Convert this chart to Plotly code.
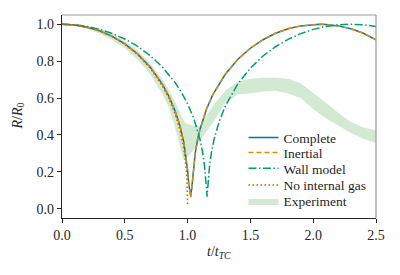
import plotly.graph_objects as go

# ---- data ----
t_complete = [0, 0.1, 0.2, 0.3, 0.4, 0.5, 0.6, 0.7, 0.8, 0.85, 0.9, 0.94, 0.97, 0.99, 1.0, 1.01, 1.025,
              1.04, 1.05, 1.06, 1.08, 1.1, 1.15, 1.2, 1.3, 1.4, 1.5, 1.6, 1.7, 1.8, 1.9, 2.0, 2.05,
              2.1, 2.2, 2.3, 2.4, 2.5]
r_complete = [1.0, 0.996, 0.984, 0.964, 0.934, 0.894, 0.84, 0.77, 0.674, 0.611, 0.531, 0.447, 0.36, 0.274,
              0.208, 0.13, 0.067, 0.157, 0.244, 0.298, 0.376, 0.434, 0.539, 0.617, 0.729, 0.81, 0.87,
              0.916, 0.951, 0.975, 0.991, 0.999, 1.0, 0.999, 0.991, 0.975, 0.951, 0.916]

t_inertial = t_complete
r_inertial = [1.0, 0.996, 0.984, 0.964, 0.934, 0.894, 0.84, 0.77, 0.674, 0.611, 0.531, 0.447, 0.36, 0.274,
              0.208, 0.128, 0.062, 0.155, 0.244, 0.298, 0.376, 0.434, 0.539, 0.617, 0.729, 0.81, 0.87,
              0.916, 0.951, 0.975, 0.991, 0.999, 1.0, 0.999, 0.991, 0.975, 0.951, 0.916]

t_wall = [0, 0.1, 0.2, 0.3, 0.4, 0.5, 0.6, 0.7, 0.8, 0.9, 0.95, 1.0, 1.05, 1.08, 1.1, 1.12, 1.135, 1.145,
          1.155, 1.165, 1.175, 1.19, 1.21, 1.25, 1.3, 1.4, 1.5, 1.6, 1.7, 1.8, 1.9, 2.0, 2.1, 2.2, 2.3,
          2.4, 2.5]
r_wall = [1.0, 0.997, 0.988, 0.972, 0.95, 0.92, 0.881, 0.831, 0.768, 0.684, 0.632, 0.569, 0.488, 0.425,
          0.373, 0.305, 0.231, 0.15, 0.066, 0.151, 0.233, 0.306, 0.374, 0.47, 0.556, 0.677, 0.762, 0.828,
          0.878, 0.918, 0.949, 0.972, 0.988, 0.997, 1.0, 0.997, 0.988]

t_nogas = [0, 0.1, 0.2, 0.3, 0.4, 0.5, 0.6, 0.7, 0.8, 0.85, 0.9, 0.94, 0.97, 0.98, 0.99, 0.995, 0.999, 1.0]
r_nogas = [1.0, 0.996, 0.984, 0.963, 0.933, 0.891, 0.837, 0.764, 0.665, 0.599, 0.515, 0.423, 0.323, 0.275,
           0.209, 0.158, 0.083, 0.012]

t_exp = [0, 0.1, 0.2, 0.3, 0.4, 0.5, 0.6, 0.7, 0.8, 0.85, 0.9, 0.95, 0.968, 0.975, 1.0, 1.05, 1.1, 1.15,
         1.2, 1.3, 1.4, 1.5, 1.6, 1.7, 1.8, 1.9, 2.0, 2.1, 2.2, 2.3, 2.4, 2.5]
r_exp_high = [1.0, 1.0, 0.99, 0.975, 0.95, 0.91, 0.86, 0.79, 0.70, 0.645, 0.58, 0.51, 0.48, 0.47, 0.46,
              0.45, 0.45, 0.50, 0.555, 0.64, 0.69, 0.705, 0.71, 0.71, 0.705, 0.68, 0.63, 0.575, 0.52,
              0.47, 0.44, 0.425]
r_exp_low = [1.0, 0.993, 0.975, 0.95, 0.915, 0.87, 0.81, 0.73, 0.62, 0.55, 0.44, 0.31, 0.265, 0.268,
             0.28, 0.32, 0.37, 0.42, 0.465, 0.575, 0.62, 0.625, 0.635, 0.64, 0.625, 0.6, 0.54, 0.49,
             0.45, 0.41, 0.38, 0.355]

x_ticks = [0.0, 0.5, 1.0, 1.5, 2.0, 2.5]
y_ticks = [0.0, 0.2, 0.4, 0.6, 0.8, 1.0]

FONT = "Liberation Serif, Times New Roman, Times, serif"
DARK = "#262626"

fig = go.Figure()

fig.add_trace(go.Scatter(
    x=t_exp + t_exp[::-1], y=r_exp_high + r_exp_low[::-1],
    fill="toself", fillcolor="rgba(44,160,44,0.22)", line=dict(width=0),
    mode="lines", name="Experiment", hoverinfo="skip", legend="legend5"))

fig.add_trace(go.Scatter(x=t_complete, y=r_complete, mode="lines", name="Complete",
                         line=dict(color="#0173b2", width=1.5), legend="legend"))
fig.add_trace(go.Scatter(x=t_inertial, y=r_inertial, mode="lines", name="Inertial",
                         line=dict(color="#de8f05", width=1.5, dash="5px,3px"), legend="legend2"))
fig.add_trace(go.Scatter(x=t_wall, y=r_wall, mode="lines", name="Wall model",
                         line=dict(color="#029e73", width=1.5, dash="8px,2.5px,1.5px,2.5px"),
                         legend="legend3"))
fig.add_trace(go.Scatter(x=t_nogas, y=r_nogas, mode="lines", name="No internal gas",
                         line=dict(color="#d55e00", width=1.5, dash="1.5px,2.5px"), legend="legend4"))

leg_x = 0.578
leg_ys = [0.395, 0.3212, 0.2438, 0.1616, 0.0828]
def leg(y):
    return dict(x=leg_x, y=y, xanchor="left", yanchor="middle", bgcolor="rgba(0,0,0,0)",
                font=dict(size=13.5, family=FONT, color=DARK), itemwidth=30)

fig.update_layout(
    width=400, height=275,
    margin=dict(l=62, r=24, t=15, b=57, autoexpand=False),
    paper_bgcolor="white", plot_bgcolor="white",
    font=dict(family=FONT, size=14, color=DARK),
    showlegend=True,
    legend=leg(leg_ys[0]), legend2=leg(leg_ys[1]), legend3=leg(leg_ys[2]),
    legend4=leg(leg_ys[3]), legend5=leg(leg_ys[4]),
    xaxis=dict(range=[0, 2.5], tickvals=x_ticks, ticktext=[f"{v:.1f}" for v in x_ticks],
               showgrid=False, zeroline=False, showline=True, linecolor=DARK, linewidth=1.2,
               ticks="outside", ticklen=4, tickwidth=1, tickcolor=DARK, mirror=False,
               tickfont=dict(family=FONT, size=14, color=DARK)),
    yaxis=dict(range=[-0.05, 1.05], tickvals=y_ticks, ticktext=[f"{v:.1f}" for v in y_ticks],
               showgrid=False, zeroline=False, showline=True, linecolor=DARK, linewidth=1.2,
               ticks="outside", ticklen=4, tickwidth=1, tickcolor=DARK, mirror=False,
               tickfont=dict(family=FONT, size=14, color=DARK)),
)

# light top/right spines
fig.add_shape(type="line", xref="paper", yref="paper", x0=0, x1=1, y0=1, y1=1,
              line=dict(color="#999999", width=1.2))
fig.add_shape(type="line", xref="paper", yref="paper", x0=1, x1=1, y0=0, y1=1,
              line=dict(color="#999999", width=1.2))

fig.add_annotation(text="<i>t</i>/<i>t</i><sub><i>TC</i></sub>", xref="paper", yref="paper",
                   x=0.5, y=-0.17, xanchor="center", yanchor="middle", showarrow=False,
                   font=dict(size=14, family=FONT, color=DARK))
fig.add_annotation(text="<i>R</i>/<i>R</i><sub>0</sub>", xref="paper", yref="paper",
                   x=-0.14, y=0.5, xanchor="center", yanchor="middle", showarrow=False,
                   textangle=-90, font=dict(size=14, family=FONT, color=DARK))

fig.write_html("out.html", config={"displayModeBar": False},
               post_script="document.body.style.margin='0';document.body.style.padding='0';")
